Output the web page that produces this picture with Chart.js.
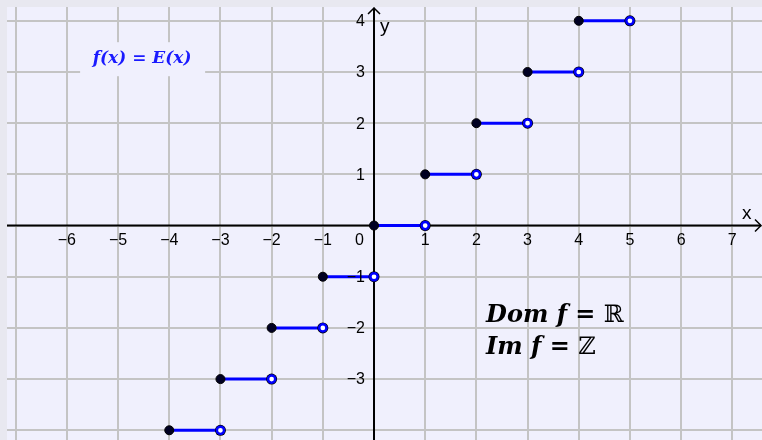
<!DOCTYPE html>
<html>
<head>
<meta charset="utf-8">
<script src="https://cdn.jsdelivr.net/npm/chart.js@4.4.0/dist/chart.umd.min.js"></script>
<style>
  html, body { margin: 0; padding: 0; background: #e8e8f0; }
  #wrap { width: 762px; height: 440px; }
</style>
</head>
<body>
<div id="wrap"><canvas id="chart_Floor" width="762" height="440"></canvas></div>
<script>
// floor function E(x): segment [start, end) at height value
var stepStart = [-4, -3, -2, -1, 0, 1, 2, 3, 4];
var stepEnd = [-3, -2, -1, 0, 1, 2, 3, 4, 5];
var stepValue = [-4, -3, -2, -1, 0, 1, 2, 3, 4];

// grid / ticks
var xGridValues = [-7, -6, -5, -4, -3, -2, -1, 0, 1, 2, 3, 4, 5, 6, 7];
var yGridValues = [-4, -3, -2, -1, 0, 1, 2, 3, 4];
var xTickValues = [-6, -5, -4, -3, -2, -1, 1, 2, 3, 4, 5, 6, 7];
var xTickLabels = ["\u22126", "\u22125", "\u22124", "\u22123", "\u22122", "\u22121", "1", "2", "3", "4", "5", "6", "7"];
var yTickValues = [4, 3, 2, 1, -1, -2, -3];
var yTickLabels = ["4", "3", "2", "1", "\u22121", "\u22122", "\u22123"];

var xRange = [-7.17, 7.58];
var yRange = [-4.19, 4.27];

var plotBg = "#f0f0fd";
var blue = "#0000ff";

function segmentSets() {
  var sets = [];
  for (var i = 0; i < stepStart.length; i++) {
    sets.push({
      data: [{ x: stepStart[i], y: stepValue[i] }, { x: stepEnd[i], y: stepValue[i] }],
      showLine: true,
      borderColor: blue,
      borderWidth: 3,
      pointRadius: 0,
      order: 5
    });
  }
  return sets;
}

var closedPts = stepStart.map(function (s, i) { return { x: s, y: stepValue[i] }; });
var openPts = stepEnd.map(function (s, i) { return { x: s, y: stepValue[i] }; });

var mathFont = "'DejaVu Serif', serif";

function drawMath(ctx, x, y, main, sym, size) {
  ctx.font = "bold italic " + size + "px " + mathFont;
  ctx.textAlign = "left";
  ctx.textBaseline = "alphabetic";
  ctx.fillText(main, x, y);
  var w = ctx.measureText(main).width;
  ctx.font = size + "px " + mathFont;
  ctx.fillText(sym, x + w, y);
}

var geoPlugin = {
  id: "geoPlugin",
  beforeDraw: function (chart) {
    var a = chart.chartArea, ctx = chart.ctx;
    ctx.save();
    ctx.fillStyle = plotBg;
    ctx.fillRect(a.left, a.top, a.right - a.left, a.bottom - a.top);
    ctx.restore();
  },
  beforeDatasetsDraw: function (chart) {
    var ctx = chart.ctx, xs = chart.scales.x, ys = chart.scales.y, a = chart.chartArea;
    var ox = xs.getPixelForValue(0), oy = ys.getPixelForValue(0);
    ctx.save();
    // label box hiding the grid
    var lx = xs.getPixelForValue(-4.53), ly = ys.getPixelForValue(3.27);
    ctx.fillStyle = plotBg;
    ctx.fillRect(lx - 62, ly - 16, 125, 34);
    ctx.fillStyle = "#1a1aff";
    ctx.font = "bold italic 17px " + mathFont;
    ctx.textAlign = "center";
    ctx.textBaseline = "middle";
    ctx.fillText("f(x) = E(x)", lx, ly);

    // axes
    ctx.strokeStyle = "#000";
    ctx.lineWidth = 2;
    ctx.beginPath();
    ctx.moveTo(a.left, oy); ctx.lineTo(a.right - 1, oy);
    ctx.moveTo(ox, a.bottom); ctx.lineTo(ox, a.top + 1);
    ctx.stroke();
    ctx.lineWidth = 1.5;
    ctx.beginPath();
    ctx.moveTo(a.right - 7, oy - 6); ctx.lineTo(a.right - 1, oy); ctx.lineTo(a.right - 7, oy + 6);
    ctx.moveTo(ox - 6, a.top + 7); ctx.lineTo(ox, a.top + 1); ctx.lineTo(ox + 6, a.top + 7);
    ctx.stroke();
    ctx.restore();
  },
  afterDatasetsDraw: function (chart) {
    var ctx = chart.ctx, xs = chart.scales.x, ys = chart.scales.y, a = chart.chartArea;
    var ox = xs.getPixelForValue(0), oy = ys.getPixelForValue(0);
    ctx.save();
    ctx.fillStyle = "#000";
    ctx.font = "16px 'Liberation Sans', Arial, sans-serif";
    ctx.textBaseline = "middle";
    ctx.textAlign = "center";
    for (var i = 0; i < xTickValues.length; i++) {
      ctx.fillText(xTickLabels[i], xs.getPixelForValue(xTickValues[i]), oy + 15);
    }
    ctx.textAlign = "right";
    for (var j = 0; j < yTickValues.length; j++) {
      ctx.fillText(yTickLabels[j], ox - 9, ys.getPixelForValue(yTickValues[j]) + 1);
    }
    ctx.fillText("0", ox - 10, oy + 15);
    ctx.font = "19px 'Liberation Sans', Arial, sans-serif";
    ctx.textAlign = "left";
    ctx.fillText("x", a.right - 20, oy - 12);
    ctx.fillText("y", ox + 6, a.top + 20);

    ctx.fillStyle = "#000";
    drawMath(ctx, xs.getPixelForValue(2.19), ys.getPixelForValue(-1.88), "Dom f = ", "\u211D", 24);
    drawMath(ctx, xs.getPixelForValue(2.19), ys.getPixelForValue(-2.5), "Im f = ", "\u2124", 24);
    ctx.restore();
  }
};

new Chart(document.getElementById("chart_Floor"), {
  type: "scatter",
  data: {
    datasets: segmentSets().concat([
      {
        data: openPts,
        pointRadius: 5.5,
        pointBackgroundColor: "#000",
        pointBorderWidth: 0,
        order: 3
      },
      {
        data: openPts,
        pointRadius: 3.6,
        pointBackgroundColor: "#fff",
        pointBorderColor: blue,
        pointBorderWidth: 2.5,
        order: 2
      },
      {
        data: closedPts,
        pointRadius: 4.5,
        pointBackgroundColor: "#000022",
        pointBorderColor: "#000",
        pointBorderWidth: 1,
        order: 1
      }
    ])
  },
  options: {
    responsive: false,
    animation: false,
    devicePixelRatio: 1,
    layout: { autoPadding: false, padding: { left: 7, top: 7, right: 0, bottom: 0 } },
    plugins: { legend: { display: false }, tooltip: { enabled: false } },
    scales: {
      x: {
        type: "linear",
        min: xRange[0],
        max: xRange[1],
        afterBuildTicks: function (s) { s.ticks = xGridValues.map(function (v) { return { value: v }; }); },
        ticks: { display: false },
        grid: { color: "#c4c4c4", lineWidth: 2, drawTicks: false },
        border: { display: false }
      },
      y: {
        type: "linear",
        min: yRange[0],
        max: yRange[1],
        afterBuildTicks: function (s) { s.ticks = yGridValues.map(function (v) { return { value: v }; }); },
        ticks: { display: false },
        grid: { color: "#c4c4c4", lineWidth: 2, drawTicks: false },
        border: { display: false }
      }
    }
  },
  plugins: [geoPlugin]
});
</script>
</body>
</html>
